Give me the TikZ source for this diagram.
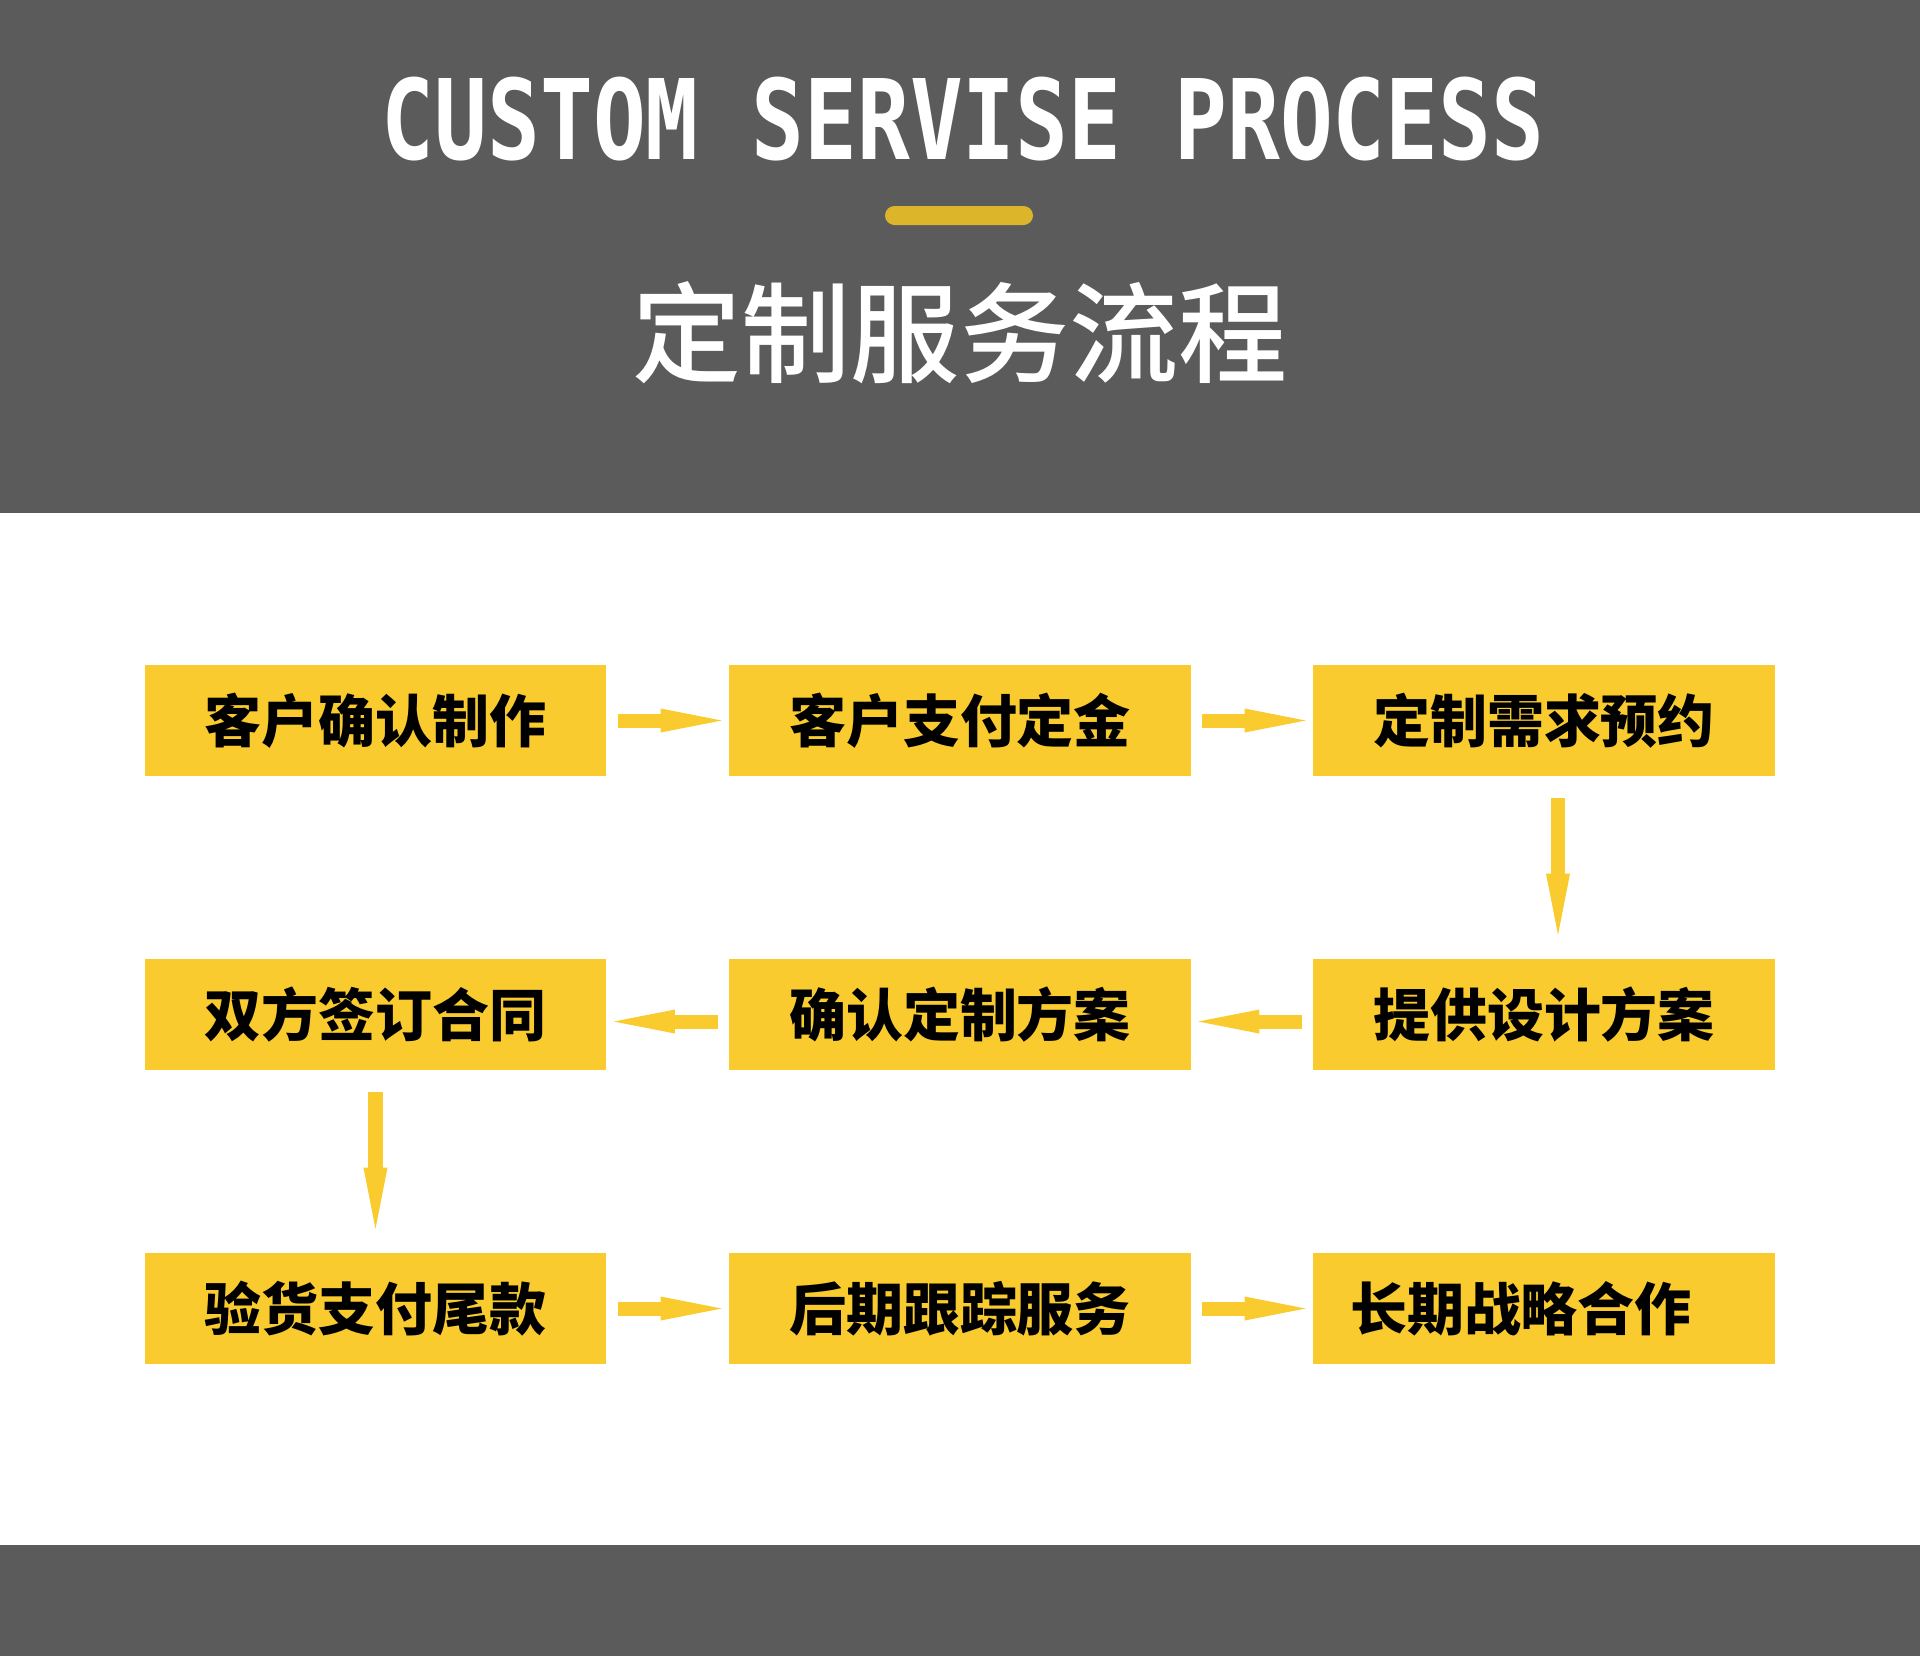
\documentclass[tikz,border=0pt]{standalone}
\usepackage{fontspec}
\usepackage{xcolor}
\usetikzlibrary{arrows.meta}

\newfontfamily\cjk{Noto Sans CJK SC}
\newfontfamily\cjkmed{Noto Sans CJK SC Medium}
\newfontfamily\titlefont[FakeStretch=0.79]{DejaVu Sans Mono Bold}

\definecolor{bandgrey}{HTML}{5B5B5B}
\definecolor{boxyellow}{HTML}{F9CB2E}
\definecolor{bargold}{HTML}{DDB52B}

\tikzset{
  stepbox/.style={fill=boxyellow, minimum width=4.61cm, minimum height=1.11cm,
    inner sep=0pt, font=\cjk\bfseries\fontsize{16.2pt}{16.2pt}\selectfont, text=black},
  flowarrow/.style={draw=boxyellow, line width=0.14cm,
    -{Triangle[length=0.61cm, width=0.24cm, line width=0pt]}, shorten <=0.11cm, shorten >=0.07cm},
  vflowarrow/.style={flowarrow, shorten <=0.21cm, shorten >=0.235cm},
}

\begin{document}
\begin{tikzpicture}[x=0.01cm, y=-0.01cm]
\useasboundingbox (0,0) rectangle (1920,1656);

% bands
\fill[bandgrey] (0,0) rectangle (1920,513);
\fill[bandgrey] (0,1545) rectangle (1920,1656);

\node[text=white, font=\titlefont\fontsize{31.6pt}{31.6pt}\selectfont] (entitle) at (963,119) {CUSTOM SERVISE PROCESS};
\fill[bargold, rounded corners=0.095cm] (885,206) rectangle (1033,225);
\node[text=white, font=\cjkmed\fontsize{31pt}{31pt}\selectfont] (cntitle) at (960,333) {定制服务流程};

% steps
\node[stepbox] (s1) at (375.5,720.5) {客户确认制作};
\node[stepbox] (s2) at (960,720.5) {客户支付定金};
\node[stepbox] (s3) at (1544,720.5) {定制需求预约};

\node[stepbox] (s6) at (375.5,1014.5) {双方签订合同};
\node[stepbox] (s5) at (960,1014.5) {确认定制方案};
\node[stepbox] (s4) at (1544,1014.5) {提供设计方案};

\node[stepbox] (s7) at (375.5,1308.5) {验货支付尾款};
\node[stepbox] (s8) at (960,1308.5) {后期跟踪服务};
\node[stepbox] (s9) at (1544,1308.5) {\hspace*{-0.46cm}长期战略合作};

% arrows
\draw[flowarrow] (s1.east) -- (s2.west);
\draw[flowarrow] (s2.east) -- (s3.west);
\draw[vflowarrow] ([xshift=0.14cm]s3.south) -- ([xshift=0.14cm]s4.north);
\draw[flowarrow] ([yshift=-0.07cm]s4.west) -- ([yshift=-0.07cm]s5.east);
\draw[flowarrow] ([yshift=-0.07cm]s5.west) -- ([yshift=-0.07cm]s6.east);
\draw[vflowarrow] (s6.south) -- (s7.north);
\draw[flowarrow] (s7.east) -- (s8.west);
\draw[flowarrow] (s8.east) -- (s9.west);

\end{tikzpicture}
\end{document}
